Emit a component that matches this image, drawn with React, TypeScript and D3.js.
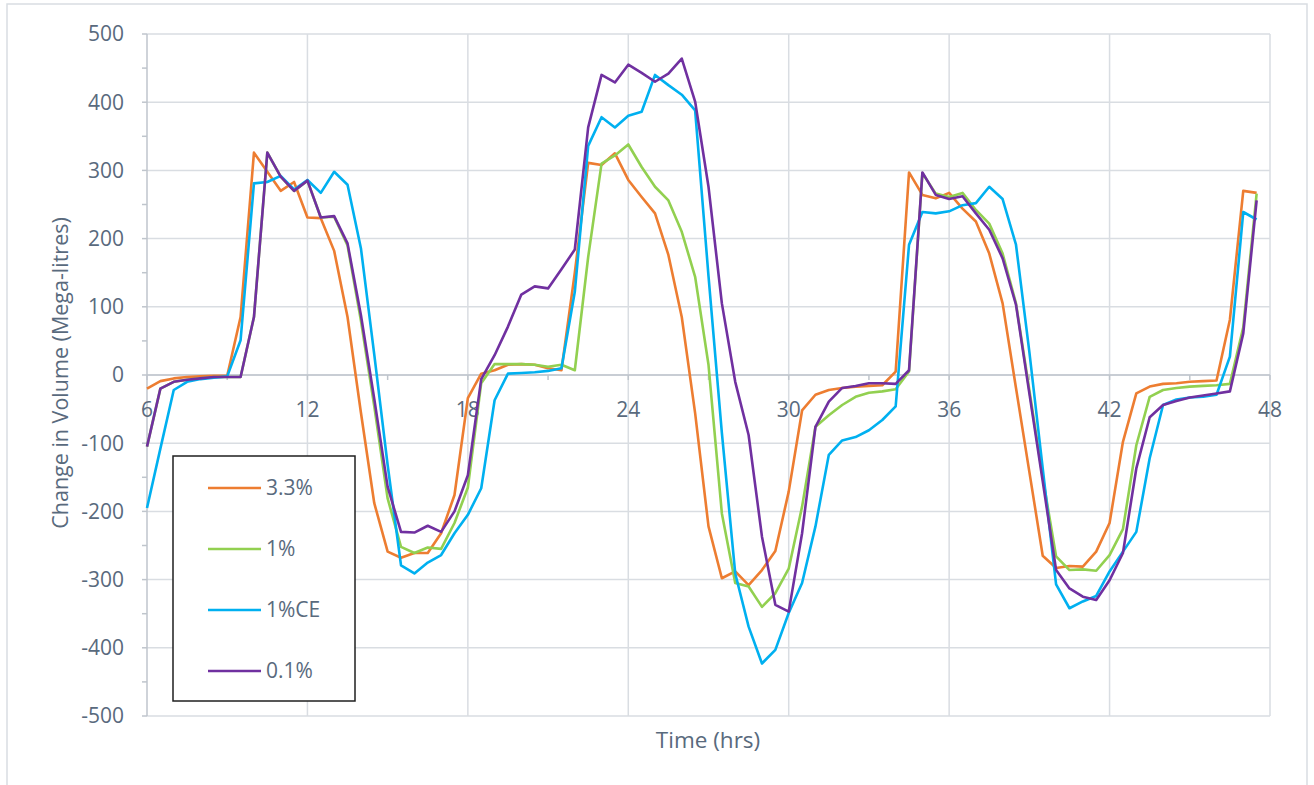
import React from "react";
import * as d3 from "d3";

const hours = [6, 6.5, 7, 7.5, 8, 8.5, 9, 9.5, 10, 10.5, 11, 11.5, 12, 12.5, 13, 13.5, 14, 14.5, 15, 15.5, 16, 16.5, 17, 17.5, 18, 18.5, 19, 19.5, 20, 20.5, 21, 21.5, 22, 22.5, 23, 23.5, 24, 24.5, 25, 25.5, 26, 26.5, 27, 27.5, 28, 28.5, 29, 29.5, 30, 30.5, 31, 31.5, 32, 32.5, 33, 33.5, 34, 34.5, 35, 35.5, 36, 36.5, 37, 37.5, 38, 38.5, 39, 39.5, 40, 40.5, 41, 41.5, 42, 42.5, 43, 43.5, 44, 44.5, 45, 45.5, 46, 46.5, 47, 47.5];

const s33 = [-20, -9, -5, -3, -2, -1, -1, 85, 326, 298, 270, 283, 231, 230, 182, 85, -55, -188, -259, -268, -261, -261, -232, -176, -34, 2, 7, 15, 16, 15, 10, 7, 150, 311, 308, 325, 286, 261, 237, 176, 85, -56, -222, -298, -288, -308, -286, -258, -171, -52, -29, -22, -19, -17, -16, -15, 5, 297, 264, 259, 267, 244, 225, 178, 105, -19, -142, -265, -283, -280, -281, -259, -217, -98, -27, -17, -13, -12, -10, -9, -8, 81, 270, 267];

const s1 = [-105, -20, -10, -7, -5, -3, -3, -3, 85, 326, 291, 270, 285, 231, 232, 190, 80, -46, -181, -252, -261, -253, -255, -217, -165, -12, 16, 16, 16, 15, 12, 15, 7, 173, 310, 322, 338, 305, 276, 256, 210, 144, 15, -203, -305, -310, -340, -320, -284, -193, -76, -59, -44, -32, -26, -24, -21, 5, 296, 266, 261, 267, 242, 222, 178, 105, -22, -150, -266, -286, -285, -287, -264, -226, -103, -32, -22, -19, -17, -16, -15, -13, 70, 266];

const s1ce = [-195, -108, -22, -10, -6, -4, -2, 51, 281, 283, 292, 272, 286, 267, 298, 279, 186, 30, -132, -279, -291, -275, -264, -232, -205, -166, -37, 2, 3, 4, 6, 10, 122, 336, 378, 363, 380, 386, 440, 425, 411, 388, 145, -85, -291, -369, -423, -403, -349, -305, -222, -117, -96, -91, -81, -66, -46, 191, 239, 237, 240, 249, 252, 276, 258, 191, 34, -137, -307, -342, -332, -324, -288, -259, -230, -122, -44, -36, -33, -32, -29, 27, 239, 228];

const s01 = [-105, -20, -10, -7, -5, -3, -3, -3, 85, 326, 291, 270, 285, 231, 233, 193, 88, -35, -164, -230, -231, -221, -230, -200, -147, -6, 29, 71, 118, 130, 127, 155, 184, 363, 440, 429, 455, 443, 430, 442, 464, 401, 276, 105, -10, -88, -237, -337, -347, -232, -76, -39, -19, -16, -12, -12, -13, 7, 297, 264, 258, 262, 237, 213, 171, 103, -27, -156, -286, -313, -325, -330, -301, -261, -137, -62, -44, -38, -33, -30, -27, -24, 61, 256];

const seriesNames = ["3.3%", "1%", "1%CE", "0.1%"];
const seriesValues = [s33, s1, s1ce, s01];
const seriesColors = ["#ED7D31", "#92D050", "#00B0F0", "#7030A0"];

const xTickLabels = [6, 12, 18, 24, 30, 36, 42, 48];
const xMinorTicks = [9, 15, 21, 27, 33, 39, 45];
const yTickLabels = [-500, -400, -300, -200, -100, 0, 100, 200, 300, 400, 500];
const yMinorTicks = [-450, -350, -250, -150, -50, 50, 150, 250, 350, 450];

const W = 1314;
const H = 785;
const FONT = "'Open Sans', 'Noto Sans', sans-serif";
const TEXT = "#596a7d";
const GRID = "#d9dde2";
const AXIS = "#bfc5cc";

export default function App() {
  const x = d3.scaleLinear().domain([6, 48]).range([147, 1270]);
  const y = d3.scaleLinear().domain([-500, 500]).range([716, 34]);
  const line = d3
    .line<number>()
    .x((_, i) => x(hours[i]))
    .y((d) => y(d));

  const legendX = 173;
  const legendY = 456;
  const legendRows = [488, 549, 610, 671];

  return (
    <svg
      width={W}
      height={H}
      style={{ position: "absolute", left: 0, top: 0, background: "#fff" }}
      fontFamily={FONT}
    >
      <rect x={7} y={4} width={1300} height={800} fill="#fff" stroke="#d9dde2" strokeWidth={1.5} />
      {yTickLabels.map((v) => (
        <line key={"hg" + v} x1={x(6)} x2={x(48)} y1={y(v)} y2={y(v)} stroke={GRID} strokeWidth={1.5} />
      ))}
      {xTickLabels.slice(1).map((t) => (
        <line key={"vg" + t} x1={x(t)} x2={x(t)} y1={y(500)} y2={y(-500)} stroke={GRID} strokeWidth={1.5} />
      ))}
      <line x1={x(6)} x2={x(6)} y1={y(500)} y2={y(-500)} stroke={AXIS} strokeWidth={1.5} />
      {[...yTickLabels, ...yMinorTicks].map((v) => (
        <line key={"yt" + v} x1={x(6) - 5} x2={x(6)} y1={y(v)} y2={y(v)} stroke={AXIS} strokeWidth={1.5} />
      ))}
      <line x1={x(6)} x2={x(48)} y1={y(0)} y2={y(0)} stroke={AXIS} strokeWidth={1.5} />
      {[...xTickLabels, ...xMinorTicks].map((t) => (
        <line key={"xt" + t} x1={x(t)} x2={x(t)} y1={y(0)} y2={y(0) + 5} stroke={AXIS} strokeWidth={1.5} />
      ))}
      {yTickLabels.map((v) => (
        <text key={"yl" + v} x={124} y={y(v)} dy="0.35em" textAnchor="end" fontSize={21} fill={TEXT}>
          {v}
        </text>
      ))}
      {xTickLabels.map((t) => (
        <text key={"xl" + t} x={x(t)} y={y(0) + 35} dy="0.35em" textAnchor="middle" fontSize={21} fill={TEXT}>
          {t}
        </text>
      ))}
      {seriesValues.map((vals, i) => (
        <path
          key={"s" + i}
          d={line(vals) || ""}
          fill="none"
          stroke={seriesColors[i]}
          strokeWidth={2.6}
          strokeLinejoin="round"
        />
      ))}
      <text
        transform={`translate(60, ${y(0) - 2}) rotate(-90)`}
        textAnchor="middle"
        dy="0.35em"
        fontSize={21.5}
        fill={TEXT}
      >
        Change in Volume (Mega-litres)
      </text>
      <text x={708} y={740} dy="0.35em" textAnchor="middle" fontSize={22.5} fill={TEXT}>
        Time (hrs)
      </text>
      <rect x={legendX} y={legendY} width={182} height={245} fill="#fff" stroke="#1f1f1f" strokeWidth={1.5} />
      {seriesNames.map((name, i) => (
        <g key={"lg" + i}>
          <line x1={208} x2={261} y1={legendRows[i]} y2={legendRows[i]} stroke={seriesColors[i]} strokeWidth={2.6} />
          <text x={266} y={legendRows[i]} dy="0.35em" fontSize={21} fill={TEXT}>
            {name}
          </text>
        </g>
      ))}
    </svg>
  );
}
